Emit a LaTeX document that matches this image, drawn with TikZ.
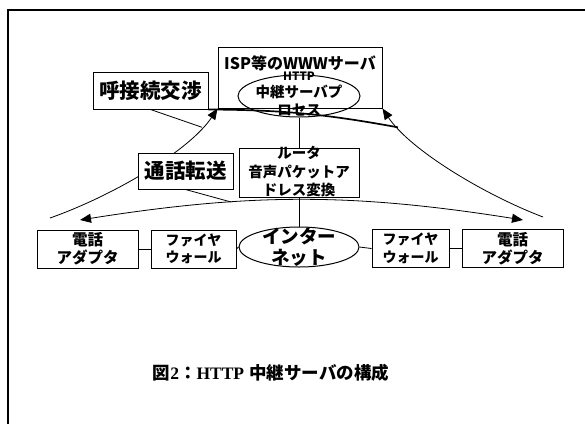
\documentclass[tikz,border=0pt]{standalone}
\usepackage{fontspec}
\newfontfamily\jp{Noto Sans CJK JP}
\newfontfamily\tnr{Liberation Serif}
\usetikzlibrary{arrows.meta,shapes.geometric,backgrounds}
\begin{document}
\begin{tikzpicture}[x=1pt,y=1pt,
  box/.style={draw,line width=1pt,fill=white,inner sep=0pt,align=center},
  oval/.style={draw,ellipse,line width=1pt,inner sep=0pt},
  lbl/.style={inner sep=0pt,align=center},
  conn/.style={line width=0.8pt},
  thickconn/.style={line width=1.7pt},
  arr/.style={line width=0.8pt,-{Triangle[length=11pt,width=9pt]}},
  dblarr/.style={line width=0.8pt,{Triangle[length=11pt,width=9pt]}-{Triangle[length=11pt,width=9pt]}},
  big/.style={font=\jp\bfseries\fontsize{20.5}{24}\selectfont},
  mid/.style={font=\jp\bfseries\fontsize{15.5}{18}\selectfont},
  small/.style={font=\jp\bfseries\fontsize{14.5}{18}\selectfont},
  fwf/.style={font=\jp\bfseries\fontsize{14}{17.5}\selectfont},
  netf/.style={font=\jp\bfseries\fontsize{18.5}{20}\selectfont}
]
\useasboundingbox (0,0) rectangle (585,-423);
% frame
\draw[line width=2.2pt] (8,-430) -- (8,-10) -- (595,-10);

% nodes
\node[box,minimum width=164,minimum height=61] (www) at (300,-77.5) {};
\node[lbl,font=\jp\bfseries\fontsize{16}{18}\selectfont] (wwwt) at (300,-63) {ISP等のWWWサーバ};
\node[oval,minimum width=122,minimum height=42] (proc) at (299,-96) {};
\node[lbl,font=\jp\bfseries\fontsize{11.5}{14}\selectfont] (p1) at (299,-76) {HTTP};
\node[lbl,small] (p2) at (299,-92) {中継サーバプ};
\node[lbl,small] (p3) at (299,-110) {ロセス};

\node[box,big,minimum width=115,minimum height=37] (cn) at (150.5,-90.5) {呼接続交渉};
\node[box,big,minimum width=95,minimum height=36] (tt) at (185.5,-171) {通話転送};

\node[box,minimum width=120,minimum height=49] (rt) at (299,-172.5) {};
\node[lbl,small] (r1) at (299,-152.5) {ルータ};
\node[lbl,small] (r2) at (299,-172.5) {音声パケットア};
\node[lbl,small] (r3) at (299,-190) {ドレス変換};

\node[oval,minimum width=120,minimum height=40] (inet) at (299,-247) {};
\node[lbl,netf] (i1) at (299,-236) {インター};
\node[lbl,netf] (i2) at (299,-258) {ネット};

\node[box,mid,minimum width=101,minimum height=38] (ad1) at (87.5,-249) {電話\\アダプタ};
\node[box,fwf,minimum width=85,minimum height=38] (fw1) at (193.5,-249) {ファイヤ\\ウォール};
\node[box,fwf,minimum width=77,minimum height=38] (fw2) at (410.5,-248.5) {ファイヤ\\ウォール};
\node[box,mid,minimum width=101,minimum height=38] (ad2) at (512.5,-248.5) {電話\\アダプタ};

\node[lbl,font=\fontsize{17.5}{20}\selectfont] (cap) at (271,-373)
  {{\jp\bfseries 図}{\tnr\bfseries 2}{\jp\bfseries ：}{\tnr\bfseries HTTP} {\jp\bfseries 中継サーバの構成}};

% connectors
\begin{scope}[on background layer]
\coordinate (ls) at (50,-218);
\coordinate (rs) at (543,-217);
\draw[arr] (ls) .. controls (115,-195) and (190,-150) .. (www.south west) coordinate[pos=0.85] (lc);
\draw[arr] (rs) .. controls (485,-195) and (410,-150) .. (www.south east) coordinate[pos=0.85] (rc);
\draw[conn] (cn.south) -- (lc);
\draw[thickconn] (cn.south east) to[bend left=5] (rc);
\coordinate (tl) at (80,-220);
\coordinate (tr) at (523,-220);
\draw[dblarr] (tl) to[bend left=9] coordinate[pos=0.33] (tc) (tr);
\draw[conn] (tt.south) -- (tc);
\draw[conn] (proc.south) -- (rt.north);
\draw[conn] (rt.south) -- (inet.north);
\draw[conn] (ad1.east) -- (fw1.west);
\draw[conn] (fw1.east) -- (inet.west);
\draw[conn] (inet.east) -- (fw2.west);
\draw[conn] (fw2.east) -- (ad2.west);
\end{scope}
\end{tikzpicture}
\end{document}
